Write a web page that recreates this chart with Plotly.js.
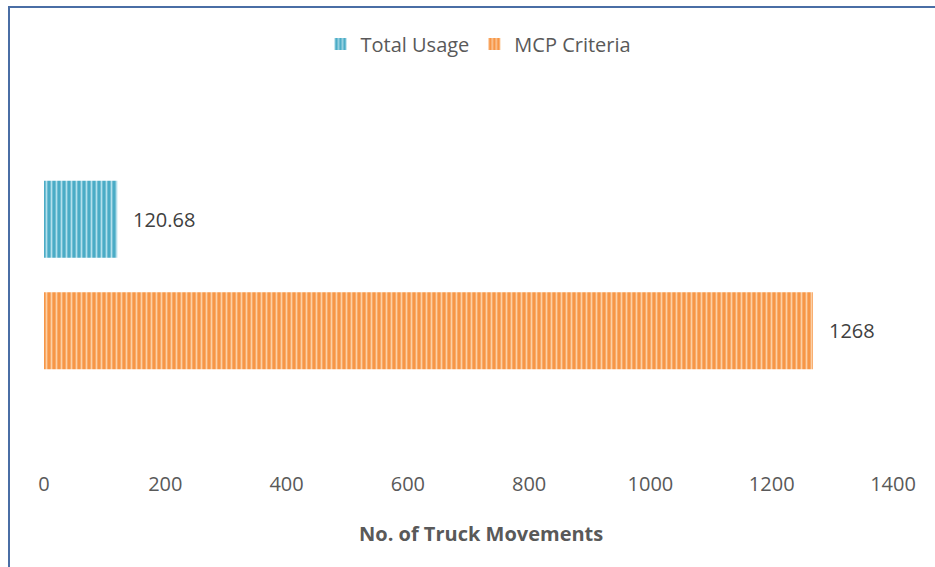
<!DOCTYPE html>
<html>
<head>
<meta charset="utf-8">
<script src="https://cdn.plot.ly/plotly-3.0.1.min.js"></script>
<style>
html,body{margin:0;padding:0;background:#fff;}
#wrap{position:relative;width:935px;height:567px;}
#chart{position:absolute;left:0;top:0;width:935px;height:567px;}
#frame{position:absolute;left:8px;top:6px;width:927px;height:561px;border-left:2px solid #4a6ea5;border-top:2px solid #4a6ea5;box-sizing:border-box;pointer-events:none;}
</style>
</head>
<body>
<div id="wrap"><div id="chart"></div><div id="frame"></div></div>
<script>
var seriesNames = ["Total Usage", "MCP Criteria"];
var seriesValues = [120.68, 1268];
var valueLabels = ["120.68", "1268"];
var category = ["Truck Movements"];
var xTicks = [0, 200, 400, 600, 800, 1000, 1200, 1400];
var xTitle = "No. of Truck Movements";

var colors = ["#4bacc6", "#f79646"];
var stripe = ["#b4e0ec", "#fcd0a6"];

// Plotly draws the first trace at the bottom of a horizontal group,
// so MCP Criteria goes first and the legend order is reversed.
var order = [1, 0];
var data = order.map(function(i){
  return {
    type: "bar",
    orientation: "h",
    name: seriesNames[i],
    x: [seriesValues[i]],
    y: category,
    text: [valueLabels[i]],
    textposition: "none",
    marker: {
      color: colors[i],
      line: {width: 0},
      pattern: {shape: "|", fillmode: "replace", bgcolor: colors[i], fgcolor: stripe[i], size: 5, solidity: 0.35}
    },
    hoverinfo: "skip"
  };
});

var bargap = 0.428;
var half = (1 - bargap) / 4;
var annYs = [half, -half]; // Total Usage on top, MCP Criteria below
var annotations = seriesValues.map(function(v, i){
  return {
    x: v, y: annYs[i], xref: "x", yref: "y",
    text: valueLabels[i], showarrow: false,
    xanchor: "left", yanchor: "middle", xshift: 14,
    font: {family: "Open Sans", size: 20, color: "#404040"}
  };
});
annotations.push({
  x: 0.5, xref: "paper", xshift: 12,
  y: 0, yref: "paper", yshift: -63,
  xanchor: "center", yanchor: "middle",
  text: "<b>" + xTitle + "</b>", showarrow: false,
  font: {family: "Open Sans", size: 20, color: "#595959"}
});

var layout = {
  width: 935, height: 567,
  margin: {l: 44, r: 42, t: 80, b: 97},
  paper_bgcolor: "#ffffff",
  plot_bgcolor: "#ffffff",
  barmode: "group",
  bargap: bargap,
  bargroupgap: 0.309,
  showlegend: true,
  annotations: annotations,
  legend: {
    orientation: "h", traceorder: "reversed",
    x: 0.5 + 10/849, xanchor: "center", y: 1.0 + 36/390, yanchor: "middle",
    font: {family: "Open Sans", size: 20, color: "#595959"},
    itemwidth: 30
  },
  xaxis: {
    range: [0, 1400],
    tickvals: xTicks,
    ticktext: xTicks.map(String),
    showgrid: false, zeroline: false, showline: false,
    ticks: "",
    tickfont: {family: "Open Sans", size: 20, color: "#595959"}
  },
  yaxis: {
    range: [-0.5, 0.5],
    showticklabels: false, showgrid: false, zeroline: false, showline: false, ticks: ""
  }
};

Plotly.newPlot("chart", data, layout, {displayModeBar: false, staticPlot: true});
</script>
</body>
</html>
